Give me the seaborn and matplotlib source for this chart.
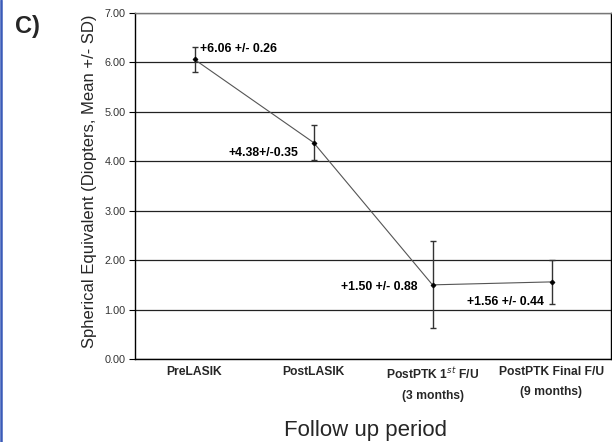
import matplotlib
matplotlib.use("Agg")
import matplotlib.pyplot as plt
import matplotlib.transforms as mtransforms
import seaborn as sns
import pandas as pd
from matplotlib.lines import Line2D

periods = ["PreLASIK", "PostLASIK", "PostPTK 1st F/U", "PostPTK Final F/U"]
tick_labels = ["PreLASIK", "PostLASIK", "PostPTK 1$^{st}$ F/U\n(3 months)", "PostPTK Final F/U\n(9 months)"]
means = [6.06, 4.38, 1.50, 1.56]
sds = [0.26, 0.35, 0.88, 0.44]
annotations = ["+6.06 +/- 0.26", "+4.38+/-0.35", "+1.50 +/- 0.88", "+1.56 +/- 0.44"]
yticks = [0, 1, 2, 3, 4, 5, 6, 7]

df = pd.DataFrame({"period": periods, "mean": means, "sd": sds})

sns.set_theme(style="white")
plt.rcParams['font.family'] = ['Liberation Sans', 'DejaVu Sans']

fig = plt.figure(figsize=(6.12, 4.42), dpi=100)
ax = fig.add_axes([135/612, 1-359/442, 476/612, 346/442])

sns.pointplot(data=df, x="period", y="mean", order=periods, color="#555555",
              markers="D", markersize=2.5, linewidth=0.8, errorbar=None, ax=ax, zorder=3)
for ln in ax.lines:
    if ln.get_marker() not in (None, "None", ""):
        ln.set_markerfacecolor("black")
        ln.set_markeredgecolor("black")

ax.errorbar(x=range(len(periods)), y=df["mean"], yerr=df["sd"], fmt="none",
            ecolor="#333333", elinewidth=1.0, capsize=2.2, capthick=1.0, zorder=2)

ax.set_xlim(-0.5, 3.5)
ax.set_ylim(0, 7)
ax.set_yticks(yticks)
ax.set_yticklabels([f"{v:.2f}" for v in yticks], fontsize=7.8, color="#333333")
ax.set_xticks(range(len(periods)))
ax.set_xticklabels(tick_labels, fontsize=8.7, fontweight="bold", linespacing=1.95, va="top")
shift = mtransforms.ScaledTranslation(11/100, 0, fig.dpi_scale_trans)
for lbl in ax.get_xticklabels():
    lbl.set_transform(lbl.get_transform() + shift)
ax.tick_params(axis="y", length=4, width=0.8, color="black", left=True, pad=3)
ax.tick_params(axis="x", length=0, pad=5)
ax.yaxis.grid(True, color="#222222", linewidth=0.9)
ax.set_axisbelow(True)
for s in ax.spines.values():
    s.set_color("black")
    s.set_linewidth(1.0)
ax.spines["top"].set_color("#777777")

ax.set_xlabel("")
ax.set_ylabel("")
fig.text(90/612, 1-181/442, "Spherical Equivalent (Diopters, Mean +/- SD)", fontsize=12,
         rotation=90, ha="center", va="center")

ann_pos = [(0.05, 6.27, "left"), (0.87, 4.17, "right"), (1.87, 1.46, "right"), (2.94, 1.15, "right")]
for txt, (x, y, ha) in zip(annotations, ann_pos):
    ax.text(x, y, txt, fontsize=8.8, fontweight="bold", ha=ha, va="center", color="black")

fig.text(365/612, 1-436/442, "Follow up period", fontsize=16, ha="center", va="baseline")
fig.text(27/612, 1-27/442, "C)", fontsize=17, fontweight="bold", ha="center", va="center")

fig.add_artist(Line2D([1.2/612, 1.2/612], [0, 1], transform=fig.transFigure,
                      color="#3a5bb8", linewidth=1.8))

fig.savefig("out.png", dpi=100)
